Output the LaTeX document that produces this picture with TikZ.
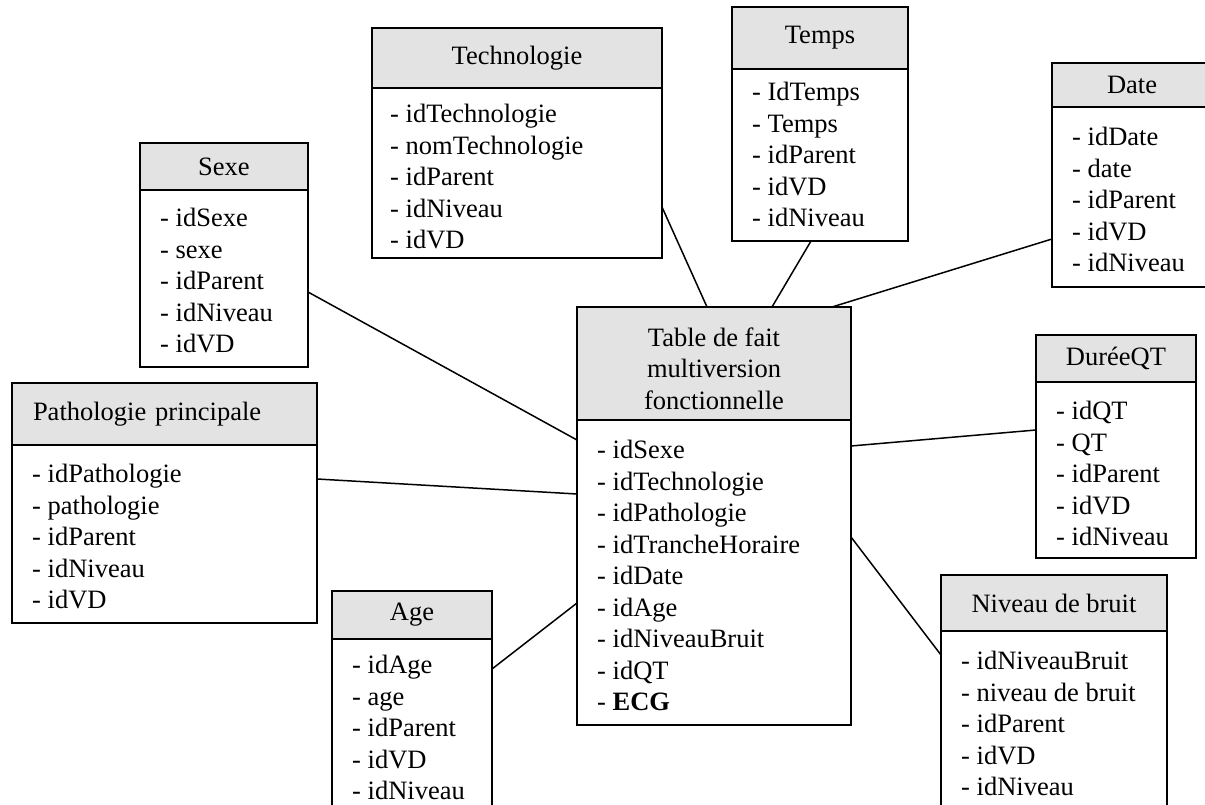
\documentclass[tikz,border=0pt]{standalone}
\usepackage{fontspec}
\setmainfont{Liberation Serif}
\definecolor{hdrgray}{HTML}{E3E3E3}
\newcommand\tabfont{\fontsize{26.5}{31.5}\selectfont}

\begin{document}
\begin{tikzpicture}[x=1pt,y=1pt,
  hdr/.style={draw, line width=1.8pt, fill=hdrgray, anchor=north west,
              inner sep=0pt, outer sep=0pt, align=center, font=\tabfont},
  bdy/.style={draw, line width=1.8pt, fill=white, anchor=north west,
              inner sep=0pt, outer sep=0pt},
  items/.style={anchor=north west, inner sep=0pt, align=left, font=\tabfont},
  title/.style={inner sep=0pt, align=center, font=\tabfont},
  link/.style={line width=1.5pt}]
\clip (0,0) rectangle (1205,-805);

% Technologie
\node[hdr, minimum width=290pt, minimum height=60pt] (techH) at (372,-28) {Technologie};
\node[bdy, minimum width=290pt, minimum height=170pt] (techB) at (techH.south west) {};
\node[items] (techL) at ([xshift=18pt,yshift=-16pt]techB.north west)
  {- idTechnologie\\- nomTechnologie\\- idParent\\- idNiveau\\- idVD};

% Temps
\node[hdr, minimum width=176pt, minimum height=62pt] (tempsH) at (732,-7) {Temps};
\node[bdy, minimum width=176pt, minimum height=172pt] (tempsB) at (tempsH.south west) {};
\node[items] (tempsL) at ([xshift=20pt,yshift=-13pt]tempsB.north west)
  {- IdTemps\\- Temps\\- idParent\\- idVD\\- idNiveau};

% Date
\node[hdr, minimum width=160pt, minimum height=44pt] (dateH) at (1052,-63) {Date};
\node[bdy, minimum width=160pt, minimum height=180pt] (dateB) at (dateH.south west) {};
\node[items] (dateL) at ([xshift=20pt,yshift=-20pt]dateB.north west)
  {- idDate\\- date\\- idParent\\- idVD\\- idNiveau};

% Sexe
\node[hdr, minimum width=168pt, minimum height=47pt] (sexeH) at (140,-143) {Sexe};
\node[bdy, minimum width=168pt, minimum height=177pt] (sexeB) at (sexeH.south west) {};
\node[items] (sexeL) at ([xshift=20pt,yshift=-18pt]sexeB.north west)
  {- idSexe\\- sexe\\- idParent\\- idNiveau\\- idVD};

% Pathologie principale
\node[hdr, align=left, text width=263pt, inner xsep=21pt, minimum width=305pt,
      minimum height=62pt] (pathH) at (12,-383) {Pathologie principale};
\node[bdy, minimum width=305pt, minimum height=178pt] (pathB) at (pathH.south west) {};
\node[items] (pathL) at ([xshift=20pt,yshift=-19pt]pathB.north west)
  {- idPathologie\\- pathologie\\- idParent\\- idNiveau\\- idVD};

% Fact table
\node[hdr, minimum width=274pt, minimum height=113pt] (factH) at (577,-307) {};
\node[title] (factT) at ([yshift=-5pt]factH.center)
  {Table de fait\\multiversion\\fonctionnelle};
\node[bdy, minimum width=274pt, minimum height=305pt] (factB) at (factH.south west) {};
\node[items] (factL) at ([xshift=20pt,yshift=-20pt]factB.north west)
  {- idSexe\\- idTechnologie\\- idPathologie\\- idTrancheHoraire\\- idDate\\- idAge\\- idNiveauBruit\\- idQT\\- \textbf{ECG}};

% DureeQT
\node[hdr, minimum width=160pt, minimum height=47pt] (qtH) at (1036,-335) {DuréeQT};
\node[bdy, minimum width=160pt, minimum height=176pt] (qtB) at (qtH.south west) {};
\node[items] (qtL) at ([xshift=20pt,yshift=-19pt]qtB.north west)
  {- idQT\\- QT\\- idParent\\- idVD\\- idNiveau};

% Age
\node[hdr, minimum width=160pt, minimum height=48pt] (ageH) at (332,-591) {Age};
\node[bdy, minimum width=160pt, minimum height=190pt] (ageB) at (ageH.south west) {};
\node[items] (ageL) at ([xshift=20pt,yshift=-16pt]ageB.north west)
  {- idAge\\- age\\- idParent\\- idVD\\- idNiveau};

% Niveau de bruit
\node[hdr, minimum width=226pt, minimum height=56pt] (nivH) at (941,-575) {Niveau de bruit};
\node[bdy, minimum width=226pt, minimum height=200pt] (nivB) at (nivH.south west) {};
\node[items] (nivL) at ([xshift=20pt,yshift=-20pt]nivB.north west)
  {- idNiveauBruit\\- niveau de bruit\\- idParent\\- idVD\\- idNiveau};

% Links between dimensions and the fact table
\draw[link] ([yshift=-119pt]techB.north east) -- ([xshift=130pt]factH.north west);
\draw[link] ([xshift=79pt]tempsB.south west) -- ([xshift=195pt]factH.north west);
\draw[link] ([yshift=-132pt]dateB.north west) -- ([xshift=255pt]factH.north west);
\draw[link] ([yshift=-102pt]sexeB.north east) -- ([yshift=-20pt]factB.north west);
\draw[link] ([yshift=-34pt]pathB.north east) -- ([yshift=-74pt]factB.north west);
\draw[link] ([yshift=-30pt]ageB.north east) -- ([yshift=-183pt]factB.north west);
\draw[link] ([yshift=-26pt]factB.north east) -- ([yshift=-48pt]qtB.north west);
\draw[link] ([yshift=-117pt]factB.north east) -- ([yshift=-24pt]nivB.north west);
\end{tikzpicture}
\end{document}
